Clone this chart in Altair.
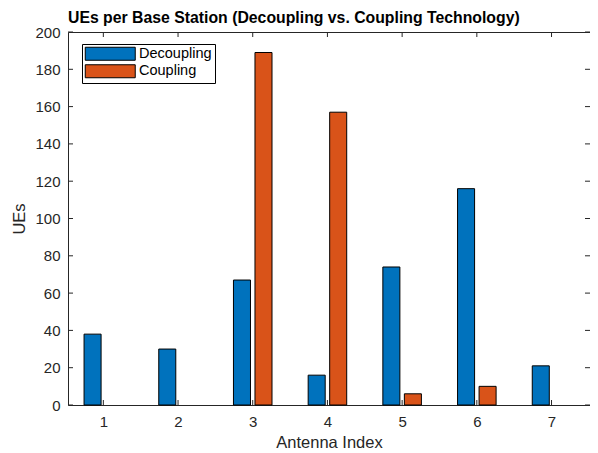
import altair as alt
import pandas as pd

antenna = [1, 2, 3, 4, 5, 6, 7]
decoupling = [38, 30, 67, 16, 74, 116, 21]
coupling = [0, 0, 189, 157, 6, 10, 0]
series = ["Decoupling", "Coupling"]
colors = ["#0072BD", "#D95319"]
x_ticks = [1, 2, 3, 4, 5, 6, 7]
y_ticks = [0, 20, 40, 60, 80, 100, 120, 140, 160, 180, 200]

rows = []
for i, a in enumerate(antenna):
    rows.append({"antenna": a, "series": "Decoupling", "value": decoupling[i]})
    rows.append({"antenna": a, "series": "Coupling", "value": coupling[i]})
df = pd.DataFrame(rows)
xt = pd.DataFrame({"t": x_ticks})
yt = pd.DataFrame({"t": y_ticks})

W, H = 522, 373
FONT = "Liberation Sans"
AX = "#262626"

xscale = alt.Scale(domain=[0.527, 7.515], nice=False, zero=False)
yscale = alt.Scale(domain=[0, 200], nice=False)

xaxis = alt.Axis(values=x_ticks, title="Antenna Index", format="d",
                 labelPadding=9, titlePadding=5, labelOverlap=False)
yaxis = alt.Axis(values=y_ticks, title="UEs", labelPadding=8,
                 titlePadding=7, labelOverlap=False)

bars = alt.Chart(df).transform_filter(
    "datum.value > 0"
).transform_calculate(
    off="datum.series == 'Decoupling' ? -0.144 : 0.144"
).transform_calculate(
    x0="datum.antenna + datum.off - 0.114",
    x1="datum.antenna + datum.off + 0.114",
).mark_bar(stroke="#000000", strokeWidth=1).encode(
    x=alt.X("x0:Q", scale=xscale, axis=xaxis),
    x2="x1:Q",
    y=alt.Y("value:Q", scale=yscale, axis=yaxis),
    y2=alt.datum(0),
    color=alt.Color("series:N", scale=alt.Scale(domain=series, range=colors),
                    legend=alt.Legend(
                        title=None, orient="none", legendX=14, legendY=12,
                        direction="vertical",
                        symbolType="M-1,-1H6.69V1H-1Z", symbolSize=169,
                        symbolStrokeColor="#000000", symbolStrokeWidth=1,
                        symbolOpacity=1,
                        labelOffset=40, labelFontSize=14.5, labelFont=FONT,
                        labelColor="#000000",
                        strokeColor="#000000", fillColor="#ffffff",
                        padding=2.5, rowPadding=-0.5)),
)

tb = alt.Chart(xt).mark_rule(color=AX).encode(
    x=alt.X("t:Q", scale=xscale, axis=xaxis), y=alt.value(H), y2=alt.value(H - 5))
tt = alt.Chart(xt).mark_rule(color=AX).encode(
    x=alt.X("t:Q", scale=xscale, axis=xaxis), y=alt.value(0), y2=alt.value(5))
tl = alt.Chart(yt).mark_rule(color=AX).encode(
    y=alt.Y("t:Q", scale=yscale, axis=yaxis), x=alt.value(0), x2=alt.value(5))
tr = alt.Chart(yt).mark_rule(color=AX).encode(
    y=alt.Y("t:Q", scale=yscale, axis=yaxis), x=alt.value(W), x2=alt.value(W - 5))

chart = alt.layer(bars, tb, tt, tl, tr).properties(
    width=W, height=H,
    autosize=alt.AutoSizeParams(type="none"),
    padding={"left": 60, "top": 24, "right": 0, "bottom": 48},
    title=alt.TitleParams(
        text="UEs per Base Station (Decoupling vs. Coupling Technology)",
        anchor="start", frame="group", font=FONT, fontSize=15.8,
        fontWeight="bold", color="#000000", offset=8, dy=22,
        baseline="alphabetic"),
).configure_view(
    stroke=AX, strokeWidth=1
).configure_axis(
    domain=False, ticks=False, tickSize=0, grid=False, labelOverlap=False,
    labelFont=FONT, labelFontSize=15, labelColor=AX,
    titleFont=FONT, titleFontSize=16.5, titleFontWeight="normal", titleColor=AX,
)

chart.save("out.html", embed_options={"renderer": "svg", "actions": False})
